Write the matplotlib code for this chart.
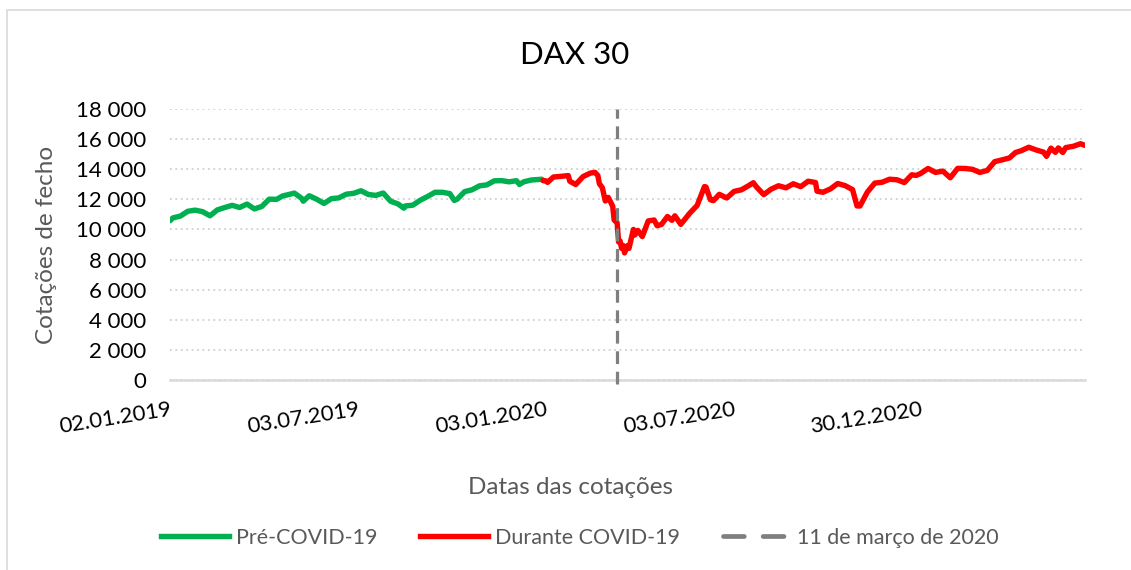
"""DAX 30 closing prices before and during COVID-19 (Excel-style line chart)."""

import matplotlib
import numpy as np

matplotlib.use("Agg")
import matplotlib.pyplot as plt
from matplotlib.lines import Line2D
from matplotlib.patches import Rectangle

plt.rcParams["font.family"] = ["Lato", "DejaVu Sans"]

# Xetra holidays, so the x axis counts trading days like Excel's category axis
holidays = [
    "2019-04-19", "2019-04-22", "2019-05-01", "2019-12-24", "2019-12-25",
    "2019-12-26", "2019-12-31", "2020-01-01", "2020-04-10", "2020-04-13",
    "2020-05-01", "2020-12-24", "2020-12-25", "2020-12-31", "2021-01-01",
    "2021-04-02", "2021-04-05",
]

pre_dates = [
    "2019-01-02", "2019-01-04", "2019-01-11", "2019-01-18", "2019-01-25",
    "2019-02-01", "2019-02-08", "2019-02-15", "2019-02-22", "2019-03-01",
    "2019-03-08", "2019-03-15", "2019-03-22", "2019-03-29", "2019-04-05",
    "2019-04-12", "2019-04-18", "2019-04-26", "2019-05-03", "2019-05-10",
    "2019-05-13", "2019-05-17", "2019-05-24", "2019-05-31", "2019-06-07",
    "2019-06-14", "2019-06-21", "2019-06-28", "2019-07-05", "2019-07-12",
    "2019-07-19", "2019-07-26", "2019-08-02", "2019-08-09", "2019-08-15",
    "2019-08-16", "2019-08-23", "2019-08-30", "2019-09-06", "2019-09-13",
    "2019-09-20", "2019-09-27", "2019-10-02", "2019-10-04", "2019-10-11",
    "2019-10-18", "2019-10-25", "2019-11-01", "2019-11-08", "2019-11-15",
    "2019-11-22", "2019-11-29", "2019-12-03", "2019-12-06", "2019-12-13",
    "2019-12-20", "2019-12-27", "2019-12-30",
]
pre_values = [
    10580, 10767, 10888, 11205, 11282,
    11181, 10907, 11300, 11457, 11602,
    11458, 11686, 11364, 11526, 12010,
    11999, 12222, 12315, 12413, 12060,
    11876, 12239, 12011, 11727, 12045,
    12096, 12340, 12399, 12569, 12323,
    12260, 12419, 11872, 11694, 11412,
    11563, 11612, 11939, 12191, 12469,
    12468, 12381, 11925, 12013, 12512,
    12634, 12895, 12961, 13229, 13242,
    13164, 13236, 12989, 13167, 13283,
    13319, 13337, 13249,
]

covid_dates = [
    "2019-12-30", "2020-01-03", "2020-01-06", "2020-01-10", "2020-01-17",
    "2020-01-24", "2020-01-27", "2020-01-31", "2020-02-07", "2020-02-14",
    "2020-02-19", "2020-02-21", "2020-02-24", "2020-02-26", "2020-02-28",
    "2020-03-03", "2020-03-06", "2020-03-09", "2020-03-11", "2020-03-12",
    "2020-03-13", "2020-03-16", "2020-03-17", "2020-03-18", "2020-03-20",
    "2020-03-23", "2020-03-26", "2020-03-27", "2020-03-31", "2020-04-03",
    "2020-04-09", "2020-04-17", "2020-04-21", "2020-04-24", "2020-04-30",
    "2020-05-06", "2020-05-08", "2020-05-14", "2020-05-15", "2020-05-22",
    "2020-05-29", "2020-06-05", "2020-06-08", "2020-06-11", "2020-06-15",
    "2020-06-19", "2020-06-26", "2020-07-03", "2020-07-10", "2020-07-17",
    "2020-07-22", "2020-07-24", "2020-07-31", "2020-08-07", "2020-08-14",
    "2020-08-21", "2020-08-28", "2020-09-04", "2020-09-11", "2020-09-18",
    "2020-09-21", "2020-09-25", "2020-10-02", "2020-10-09", "2020-10-16",
    "2020-10-23", "2020-10-28", "2020-10-30", "2020-11-06", "2020-11-13",
    "2020-11-20", "2020-11-27", "2020-12-04", "2020-12-11", "2020-12-18",
    "2020-12-23", "2020-12-30", "2021-01-08", "2021-01-15", "2021-01-22",
    "2021-01-29", "2021-02-05", "2021-02-12", "2021-02-19", "2021-02-26",
    "2021-03-05", "2021-03-12", "2021-03-19", "2021-03-26", "2021-04-01",
    "2021-04-09", "2021-04-16", "2021-04-23", "2021-04-30", "2021-05-04",
    "2021-05-07", "2021-05-12", "2021-05-14", "2021-05-19", "2021-05-21",
    "2021-05-28", "2021-06-04", "2021-06-09",
]
covid_values = [
    13249, 13219, 13127, 13483, 13526,
    13577, 13205, 12982, 13514, 13745,
    13789, 13579, 13035, 12775, 11890,
    12128, 11542, 10625, 10439, 9162,
    9232, 8742, 8939, 8442, 8929,
    8742, 10001, 9633, 9936, 9526,
    10565, 10626, 10249, 10336, 10862,
    10606, 10905, 10337, 10465, 11074,
    11587, 12848, 12820, 11970, 11911,
    12331, 12089, 12528, 12634, 12920,
    13104, 12838, 12313, 12675, 12901,
    12765, 13033, 12842, 13203, 13116,
    12542, 12469, 12689, 13051, 12909,
    12646, 11561, 11556, 12480, 13077,
    13137, 13335, 13299, 13114, 13631,
    13587, 13719, 14050, 13788, 13874,
    13433, 14057, 14050, 13993, 13786,
    13921, 14502, 14621, 14749, 15107,
    15234, 15460, 15280, 15136, 14856,
    15400, 15120, 15417, 15113, 15437,
    15520, 15693, 15581,
]

tick_dates = ["2019-01-02", "2019-07-03", "2020-01-03", "2020-07-03", "2020-12-30"]
tick_labels = ["02.01.2019", "03.07.2019", "03.01.2020", "03.07.2020", "30.12.2020"]
who_date = "2020-03-11"
y_ticks = [0, 2000, 4000, 6000, 8000, 10000, 12000, 14000, 16000, 18000]


def day_index(dates):
    return np.busday_count("2019-01-02", np.array(dates, dtype="datetime64[D]"),
                           holidays=holidays)


fig = plt.figure(figsize=(11.31, 5.70), dpi=100)
fig.patches.append(Rectangle((7 / 1131, -0.1), 1.2, 1.1 - 10 / 570, transform=fig.transFigure,
                             fill=False, edgecolor="#d9d9d9", lw=1.2))
ax = fig.add_axes([170 / 1131, 1 - 380 / 570, 915 / 1131, 271 / 570])

grey_text = "#595959"
green, red, dash_grey = "#00B050", "#FF0000", "#7f7f7f"
ax.plot(day_index(pre_dates), pre_values, color=green, lw=3.9,
        solid_joinstyle="round", solid_capstyle="round", zorder=3)
ax.plot(day_index(covid_dates), covid_values, color=red, lw=3.9,
        solid_joinstyle="round", solid_capstyle="round", zorder=3)
x_who = day_index([who_date])[0]
ax.plot([x_who, x_who], [-250, 18000], color=dash_grey, lw=2.3, ls=(0, (4, 2.4)),
        clip_on=False, zorder=4)

ax.set_xlim(0, day_index(["2021-06-09"])[0])
ax.set_ylim(0, 18000)
ax.set_yticks(y_ticks)
ax.set_yticklabels([f"{v:,}".replace(",", " ") for v in y_ticks], fontsize=16)
ax.grid(axis="y", color="#d0d0d0", ls=(0, (1, 2)), lw=1.3)
ax.set_axisbelow(True)
for side in ("top", "right", "left"):
    ax.spines[side].set_visible(False)
ax.spines["bottom"].set_color("#d9d9d9")
ax.spines["bottom"].set_linewidth(1.8)
ax.tick_params(axis="y", length=0, pad=17)

ax.set_xticks(day_index(tick_dates))
ax.set_xticklabels(tick_labels, fontsize=16, rotation=9, ha="right", va="top",
                   rotation_mode="anchor")
ax.tick_params(axis="x", length=0, pad=14)

ax.set_ylabel("Cotações de fecho", fontsize=17.5, color=grey_text)
ax.yaxis.set_label_coords(-0.123, 0.5)
fig.text(570 / 1131, 1 - 488 / 570, "Datas das cotações", fontsize=17.5, color=grey_text,
         ha="center", va="center")
fig.text(575 / 1131, 1 - 55 / 570, "DAX 30", fontsize=22.5, color="black",
         ha="center", va="center")

handles = [
    Line2D([], [], color=green, lw=3.9),
    Line2D([], [], color=red, lw=3.9),
    Line2D([], [], color=dash_grey, lw=3.4, ls=(0, (4.4, 4.0)), dash_capstyle="round"),
]
labels = ["Pré-COVID-19", "Durante COVID-19", "11 de março de 2020"]
fig.legend(handles, labels, loc="center", bbox_to_anchor=(580 / 1131, 1 - 538 / 570),
           ncol=3, frameon=False, fontsize=15.5, labelcolor=grey_text, handlelength=3.15,
           handletextpad=0.3, columnspacing=2.0)

fig.savefig("out.png", dpi=100)
plt.close(fig)
